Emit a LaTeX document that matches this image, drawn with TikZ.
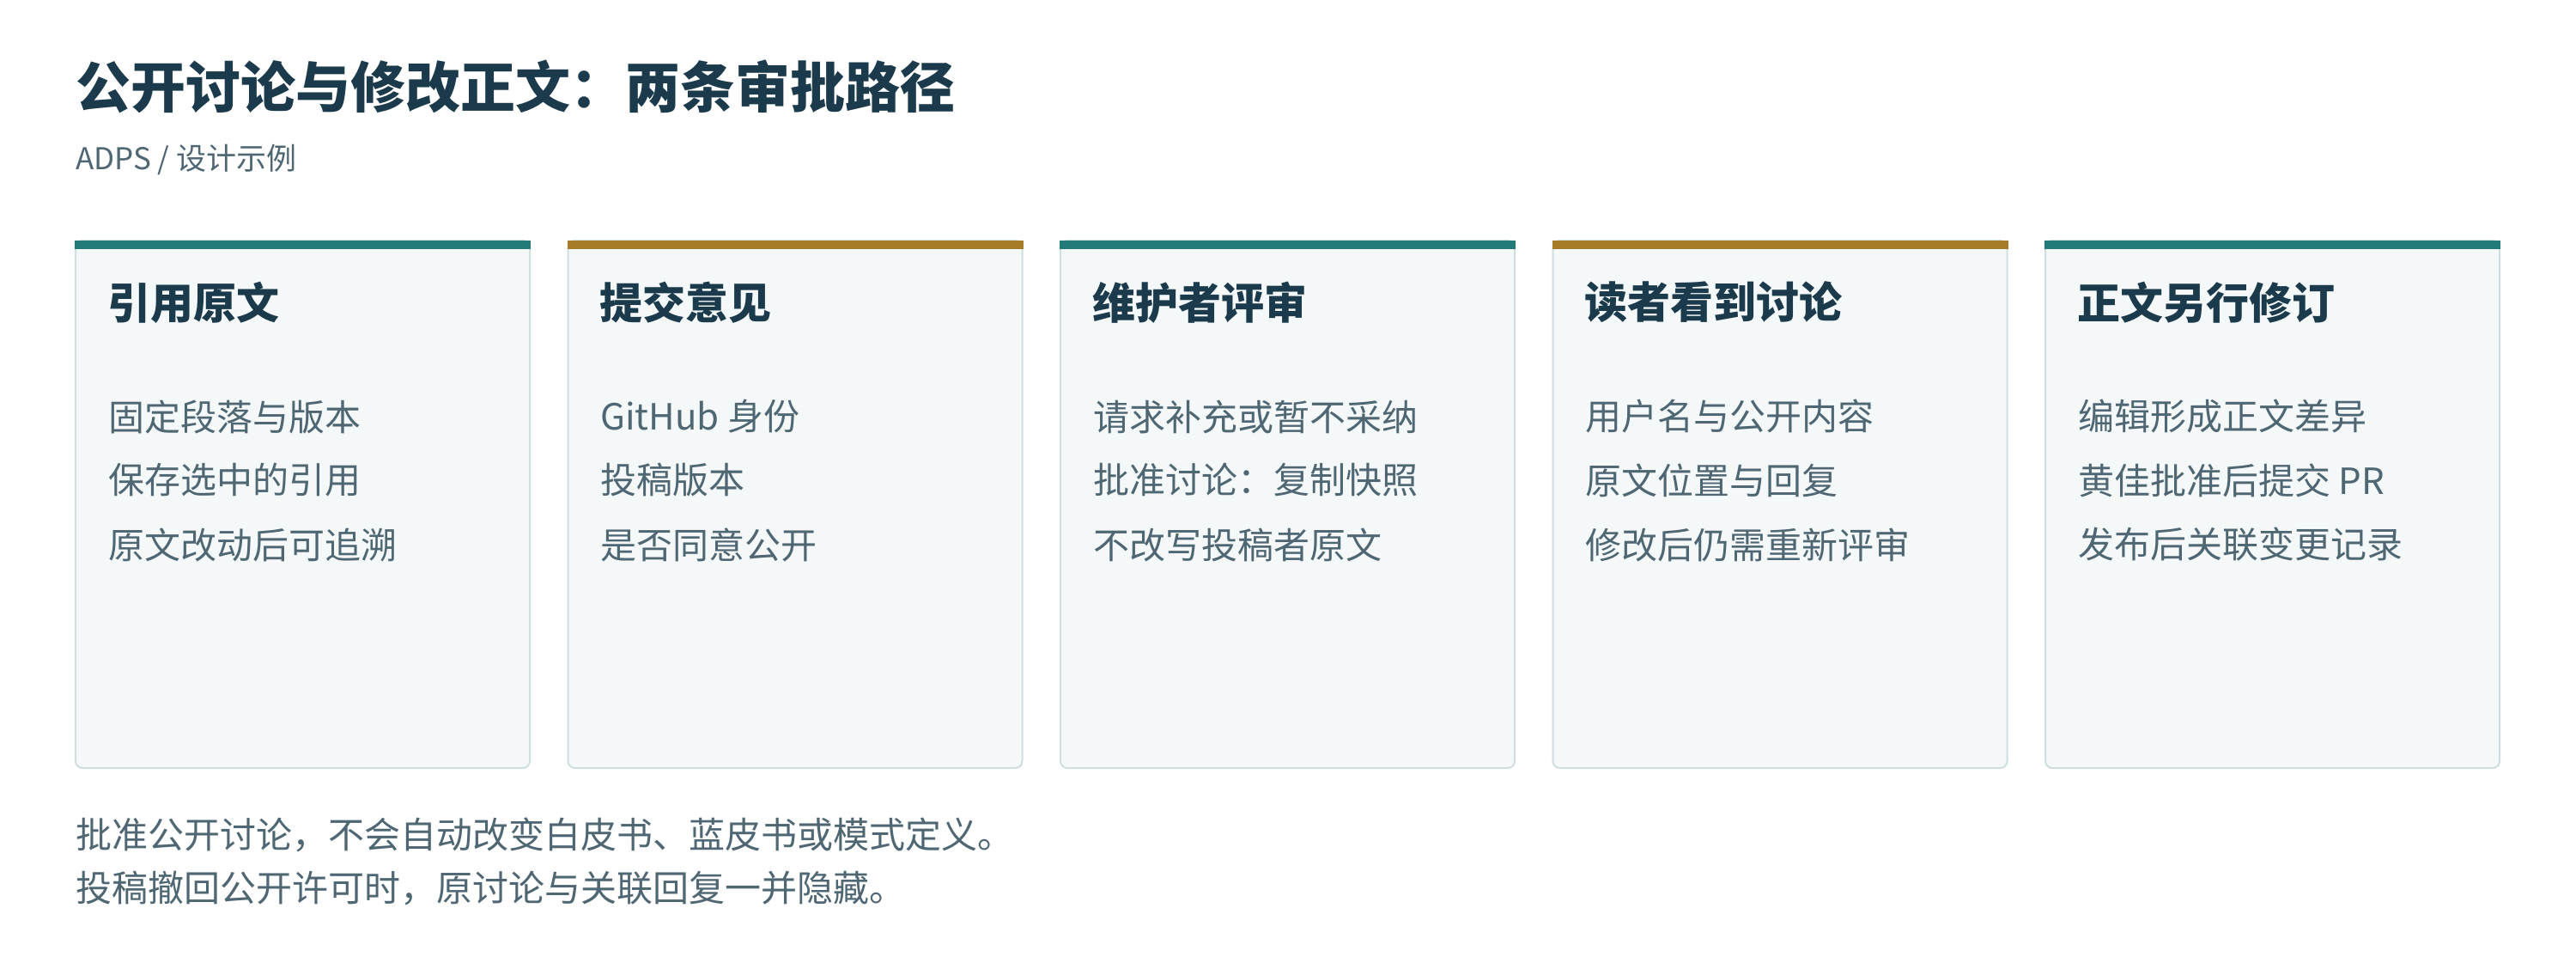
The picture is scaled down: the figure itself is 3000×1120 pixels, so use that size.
\documentclass[tikz,border=0pt]{standalone}
\usepackage{fontspec}
\setmainfont{Noto Sans CJK SC}
\definecolor{titlecol}{HTML}{1B3A4B}
\definecolor{bodycol}{HTML}{4F6673}
\definecolor{tealbar}{HTML}{237B79}
\definecolor{goldbar}{HTML}{A67C29}
\definecolor{cardfill}{HTML}{F4F8F9}
\definecolor{cardborder}{HTML}{CFDEE1}
\begin{document}
\begin{tikzpicture}[x=1pt,y=-1pt,
  every node/.style={inner sep=0pt,outer sep=0pt,anchor=west},
  maintitle/.style={text=titlecol,font=\fontsize{64}{76}\selectfont\bfseries},
  subtitle/.style={text=bodycol,font=\fontsize{35}{42}\selectfont},
  cardbox/.style={draw=cardborder,line width=2pt,fill=cardfill,rounded corners=8pt,
    minimum width=529pt,minimum height=614pt,anchor=north west},
  cardtitle/.style={text=titlecol,font=\fontsize{50}{58}\selectfont\bfseries},
  cardline/.style={text=bodycol,font=\fontsize{42}{50}\selectfont},
  footline/.style={text=bodycol,font=\fontsize{42}{50}\selectfont}]
\useasboundingbox (0,0) rectangle (3000,1120);
\fill[white] (0,0) rectangle (3000,1120);
\node[maintitle] (title) at (88,101) {公开讨论与修改正文：两条审批路径};
\node[subtitle] (sub) at (88,186) {ADPS / 设计示例};
\foreach \i/\col/\ttl/\la/\lb/\lc in {
  1/tealbar/引用原文/固定段落与版本/保存选中的引用/原文改动后可追溯,
  2/goldbar/提交意见/GitHub 身份/投稿版本/是否同意公开,
  3/tealbar/维护者评审/请求补充或暂不采纳/批准讨论：复制快照/不改写投稿者原文,
  4/goldbar/读者看到讨论/用户名与公开内容/原文位置与回复/修改后仍需重新评审,
  5/tealbar/正文另行修订/编辑形成正文差异/黄佳批准后提交 PR/发布后关联变更记录}{
  \pgfmathsetmacro\x{88+(\i-1)*573.5}
  \node[cardbox] (card\i) at (\x,280) {};
  \fill[\col] ([xshift=-1pt]card\i.north west) rectangle ([xshift=1pt,yshift=-10pt]card\i.north east);
  \node[cardtitle] (t\i) at ({\x+37},352) {\ttl};
  \node[cardline] (a\i) at ({\x+38},485) {\la};
  \node[cardline] (b\i) at ({\x+38},559) {\lb};
  \node[cardline] (c\i) at ({\x+38},634) {\lc};
}
\node[footline] (f1) at (88,972) {批准公开讨论，不会自动改变白皮书、蓝皮书或模式定义。};
\node[footline] (f2) at (88,1034) {投稿撤回公开许可时，原讨论与关联回复一并隐藏。};
\end{tikzpicture}
\end{document}
